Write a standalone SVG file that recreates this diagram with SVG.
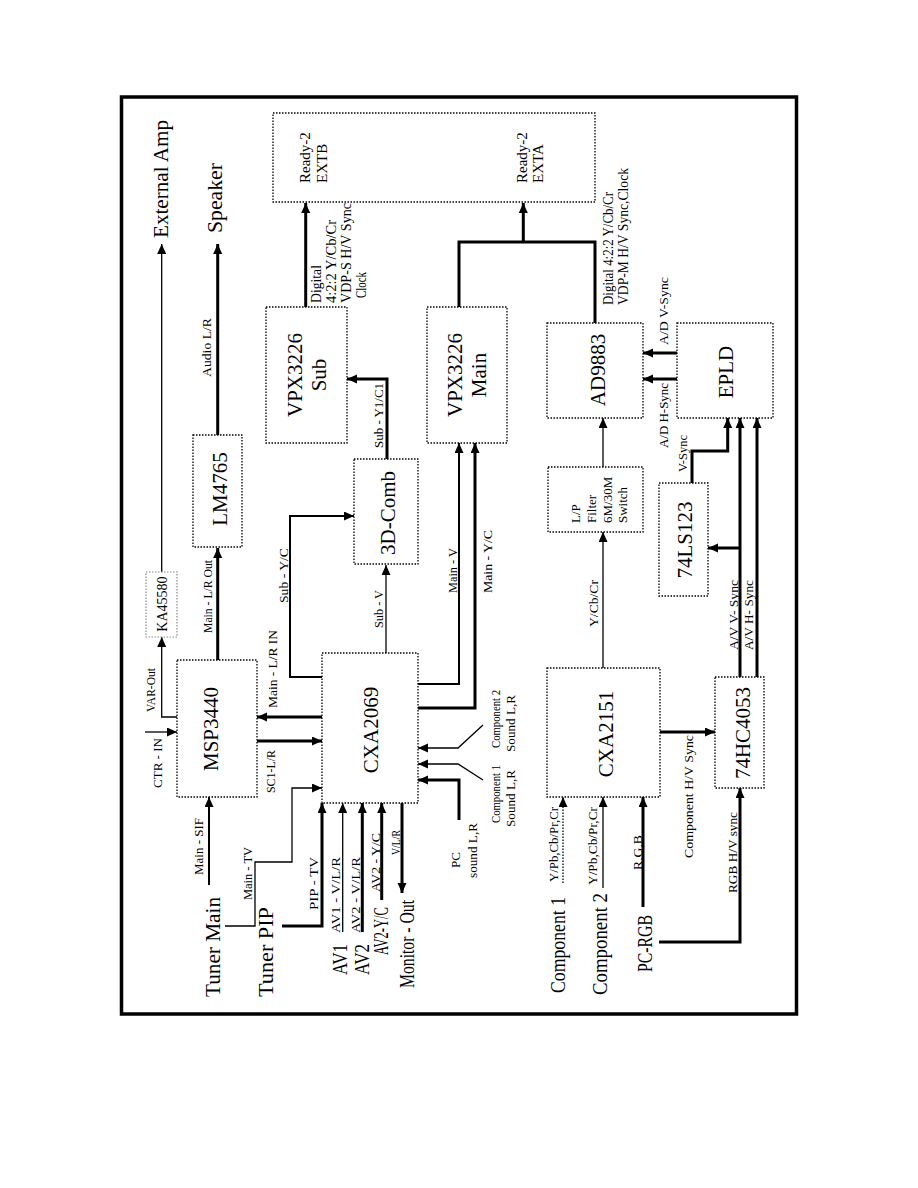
<svg xmlns="http://www.w3.org/2000/svg" width="918" height="1188" viewBox="0 0 918 1188">
<style>
text{font-family:"Liberation Serif","Times New Roman",serif;fill:#000}
.n{font-size:21px;text-anchor:middle}
.s{font-size:13px}
.m{font-size:14px}
.r{font-size:15px}
.b{font-size:20px}
.box{fill:#fff;stroke:#000;stroke-width:1.3;stroke-dasharray:1.5 1.5}
.c{fill:none;stroke:#000}
.t1{stroke-width:1.3}
.t2{stroke-width:2}
.t3{stroke-width:3}
</style>
<defs>
<marker id="a" markerUnits="userSpaceOnUse" markerWidth="11" markerHeight="10" refX="10" refY="4.5" orient="auto">
<path d="M0,0 L10,4.5 L0,9 z" fill="#000"/>
</marker>
</defs>
<rect width="918" height="1188" fill="#fff"/>
<rect x="121.5" y="97" width="675" height="917" fill="none" stroke="#000" stroke-width="3.5"/>

<g id="connectors">
<path class="c t1" d="M161.7,572 V244" marker-end="url(#a)"/>
<path class="c t3" d="M217.7,435 V244" marker-end="url(#a)"/>
<path class="c t3" d="M305.7,307 V203" marker-end="url(#a)"/>
<path class="c t3" d="M459,307 V242 H595 V323"/>
<path class="c t3" d="M523.3,242 V203" marker-end="url(#a)"/>
<path class="c t3" d="M217.7,660 V548" marker-end="url(#a)"/>
<path class="c t1" d="M177,717 H161.7 V637" marker-end="url(#a)"/>
<path class="c t1" d="M145,732 H177" marker-end="url(#a)"/>
<path class="c t2" d="M209,885 V797" marker-end="url(#a)"/>
<path class="c t1" d="M225,926 H255 V862 H292 V788 H322" marker-end="url(#a)"/>
<path class="c t3" d="M282,926 H322 V803" marker-end="url(#a)"/>
<path class="c t1" d="M342.7,932 V803" marker-end="url(#a)"/>
<path class="c t3" d="M362.3,932 V803" marker-end="url(#a)"/>
<path class="c t3" d="M381.7,900 V803" marker-end="url(#a)"/>
<path class="c t3" d="M402,803 V893" marker-end="url(#a)"/>
<path class="c t3" d="M322,717 H257" marker-end="url(#a)"/>
<path class="c t3" d="M257,741 H322" marker-end="url(#a)"/>
<path class="c t2" d="M322,677 H290 V516 H354" marker-end="url(#a)"/>
<path class="c t1" d="M386,653 V565" marker-end="url(#a)"/>
<path class="c t3" d="M387,459 V379 H347" marker-end="url(#a)"/>
<path class="c t2" d="M418,684 H459 V443" marker-end="url(#a)"/>
<path class="c t3" d="M418,708 H475 V443" marker-end="url(#a)"/>
<path class="c t1" d="M483,725 L458,748 H418" marker-end="url(#a)"/>
<path class="c t1" d="M483,780 L458,764 H418" marker-end="url(#a)"/>
<path class="c t3" d="M459,820 V780 H418" marker-end="url(#a)"/>
<path class="c t1" d="M563,883 V797" stroke-dasharray="1.5 1.5" marker-end="url(#a)"/>
<path class="c t1" d="M603,888 V797" marker-end="url(#a)"/>
<path class="c t3" d="M643,907 V797" marker-end="url(#a)"/>
<path class="c t3" d="M659,942 H740 V788" marker-end="url(#a)"/>
<path class="c t3" d="M660,732 H715" marker-end="url(#a)"/>
<path class="c t1" d="M603,668 V532" marker-end="url(#a)"/>
<path class="c t1" d="M603,467 V418" marker-end="url(#a)"/>
<path class="c t3" d="M740,677 V418" marker-end="url(#a)"/>
<path class="c t3" d="M740,548 H708" marker-end="url(#a)"/>
<path class="c t3" d="M757,677 V418" marker-end="url(#a)"/>
<path class="c t3" d="M692,483 V451 H727.7 V418" marker-end="url(#a)"/>
<path class="c t3" d="M677,353 H643" marker-end="url(#a)"/>
<path class="c t3" d="M677,379 H643" marker-end="url(#a)"/>
</g>

<g id="labels">
<text class="b" transform="rotate(-90 168 238)" x="168" y="238" textLength="118" lengthAdjust="spacingAndGlyphs">External Amp</text>
<text class="b" transform="rotate(-90 222 233)" x="222" y="233" textLength="70" lengthAdjust="spacingAndGlyphs">Speaker</text>
<text class="s" transform="rotate(-90 211 377)" x="211" y="377" textLength="59" lengthAdjust="spacingAndGlyphs">Audio L/R</text>
<text class="m" transform="rotate(-90 321 303)" x="321" y="303" textLength="38" lengthAdjust="spacingAndGlyphs">Digital</text>
<text class="m" transform="rotate(-90 336 303)" x="336" y="303" textLength="83" lengthAdjust="spacingAndGlyphs">4:2:2 Y/Cb/Cr</text>
<text class="m" transform="rotate(-90 351 303)" x="351" y="303" textLength="100" lengthAdjust="spacingAndGlyphs">VDP-S  H/V Sync</text>
<text class="m" transform="rotate(-90 366 298)" x="366" y="298" textLength="26" lengthAdjust="spacingAndGlyphs">Clock</text>
<text class="s" transform="rotate(-90 383 448)" x="383" y="448" textLength="65" lengthAdjust="spacingAndGlyphs">Sub - Y1/C1</text>
<text class="m" transform="rotate(-90 613 305)" x="613" y="305" textLength="113" lengthAdjust="spacingAndGlyphs">Digital 4:2:2 Y/Cb/Cr</text>
<text class="m" transform="rotate(-90 628 305)" x="628" y="305" textLength="137" lengthAdjust="spacingAndGlyphs">VDP-M  H/V Sync,Clock</text>
<text class="s" transform="rotate(-90 668 345)" x="668" y="345" textLength="68" lengthAdjust="spacingAndGlyphs">A/D V-Sync</text>
<text class="s" transform="rotate(-90 668 448)" x="668" y="448" textLength="65" lengthAdjust="spacingAndGlyphs">A/D H-Sync</text>
<text class="s" transform="rotate(-90 687 472)" x="687" y="472" textLength="37" lengthAdjust="spacingAndGlyphs">V-Sync</text>
<text class="s" transform="rotate(-90 598 627)" x="598" y="627" textLength="47" lengthAdjust="spacingAndGlyphs">Y/Cb/Cr</text>
<text class="s" transform="rotate(-90 738 650)" x="738" y="650" textLength="70" lengthAdjust="spacingAndGlyphs">A/V V- Sync</text>
<text class="s" transform="rotate(-90 753 650)" x="753" y="650" textLength="70" lengthAdjust="spacingAndGlyphs">A/V H- Sync</text>
<text class="s" transform="rotate(-90 693 858)" x="693" y="858" textLength="123" lengthAdjust="spacingAndGlyphs">Component  H/V Sync</text>
<text class="s" transform="rotate(-90 737 893)" x="737" y="893" textLength="81" lengthAdjust="spacingAndGlyphs">RGB H/V sync</text>
<text class="s" transform="rotate(-90 642 870)" x="642" y="870" textLength="35" lengthAdjust="spacingAndGlyphs">R,G,B</text>
<text class="s" transform="rotate(-90 558 882)" x="558" y="882" textLength="75" lengthAdjust="spacingAndGlyphs">Y/Pb,Cb/Pr,Cr</text>
<text class="s" transform="rotate(-90 597 885)" x="597" y="885" textLength="78" lengthAdjust="spacingAndGlyphs">Y/Pb,Cb/Pr,Cr</text>
<text class="b" transform="rotate(-90 565 993)" x="565" y="993" textLength="96" lengthAdjust="spacingAndGlyphs">Component 1</text>
<text class="b" transform="rotate(-90 607 995)" x="607" y="995" textLength="102" lengthAdjust="spacingAndGlyphs">Component 2</text>
<text class="b" transform="rotate(-90 652 972)" x="652" y="972" textLength="57" lengthAdjust="spacingAndGlyphs">PC-RGB</text>
<text class="b" transform="rotate(-90 220 997)" x="220" y="997" textLength="100" lengthAdjust="spacingAndGlyphs">Tuner Main</text>
<text class="b" transform="rotate(-90 273 997)" x="273" y="997" textLength="90" lengthAdjust="spacingAndGlyphs">Tuner PIP</text>
<text class="b" transform="rotate(-90 347 975)" x="347" y="975" textLength="31" lengthAdjust="spacingAndGlyphs">AV1</text>
<text class="b" transform="rotate(-90 369 975)" x="369" y="975" textLength="31" lengthAdjust="spacingAndGlyphs">AV2</text>
<text class="b" transform="rotate(-90 388 955)" x="388" y="955" textLength="48" lengthAdjust="spacingAndGlyphs">AV2-Y/C</text>
<text class="b" transform="rotate(-90 414 988)" x="414" y="988" textLength="88" lengthAdjust="spacingAndGlyphs">Monitor - Out</text>
<text class="s" transform="rotate(-90 203 875)" x="203" y="875" textLength="57" lengthAdjust="spacingAndGlyphs">Main - SIF</text>
<text class="s" transform="rotate(-90 252 900)" x="252" y="900" textLength="53" lengthAdjust="spacingAndGlyphs">Main - TV</text>
<text class="s" transform="rotate(-90 318 910)" x="318" y="910" textLength="53" lengthAdjust="spacingAndGlyphs">PIP - TV</text>
<text class="s" transform="rotate(-90 340 933)" x="340" y="933" textLength="76" lengthAdjust="spacingAndGlyphs">AV1 - V/L/R</text>
<text class="s" transform="rotate(-90 360 933)" x="360" y="933" textLength="76" lengthAdjust="spacingAndGlyphs">AV2 - V/L/R</text>
<text class="s" transform="rotate(-90 380 892)" x="380" y="892" textLength="59" lengthAdjust="spacingAndGlyphs">AV2 - Y/C</text>
<text class="s" transform="rotate(-90 400 855)" x="400" y="855" textLength="25" lengthAdjust="spacingAndGlyphs">V/L/R</text>
<text class="s" transform="rotate(-90 460 868)" x="460" y="868">PC</text>
<text class="s" transform="rotate(-90 477 878)" x="477" y="878" textLength="55" lengthAdjust="spacingAndGlyphs">sound L,R</text>
<text class="s" transform="rotate(-90 500 823)" x="500" y="823" textLength="58" lengthAdjust="spacingAndGlyphs">Component 1</text>
<text class="s" transform="rotate(-90 515 827)" x="515" y="827" textLength="57" lengthAdjust="spacingAndGlyphs">Sound L,R</text>
<text class="s" transform="rotate(-90 500 748)" x="500" y="748" textLength="58" lengthAdjust="spacingAndGlyphs">Component 2</text>
<text class="s" transform="rotate(-90 515 752)" x="515" y="752" textLength="57" lengthAdjust="spacingAndGlyphs">Sound L,R</text>
<text class="s" transform="rotate(-90 383 628)" x="383" y="628" textLength="38" lengthAdjust="spacingAndGlyphs">Sub - V</text>
<text class="s" transform="rotate(-90 457 593)" x="457" y="593" textLength="45" lengthAdjust="spacingAndGlyphs">Main - V</text>
<text class="s" transform="rotate(-90 492 593)" x="492" y="593" textLength="63" lengthAdjust="spacingAndGlyphs">Main - Y/C</text>
<text class="s" transform="rotate(-90 288 603)" x="288" y="603" textLength="55" lengthAdjust="spacingAndGlyphs">Sub - Y/C</text>
<text class="s" transform="rotate(-90 277 708)" x="277" y="708" textLength="78" lengthAdjust="spacingAndGlyphs">Main - L/R IN</text>
<text class="s" transform="rotate(-90 275 793)" x="275" y="793" textLength="43" lengthAdjust="spacingAndGlyphs">SC1-L/R</text>
<text class="s" transform="rotate(-90 212 633)" x="212" y="633" textLength="73" lengthAdjust="spacingAndGlyphs">Main - L/R Out</text>
<text class="s" transform="rotate(-90 155 712)" x="155" y="712" textLength="44" lengthAdjust="spacingAndGlyphs">VAR-Out</text>
<text class="s" transform="rotate(-90 162 788)" x="162" y="788" textLength="50" lengthAdjust="spacingAndGlyphs">CTR - IN</text>
</g>

<g id="ready2">
<rect class="box" x="273" y="113" width="322" height="89"/>
<text class="r" transform="rotate(-90 310 183)" x="310" y="183">Ready-2</text>
<text class="r" transform="rotate(-90 327 183)" x="327" y="183">EXTB</text>
<text class="r" transform="rotate(-90 527 183)" x="527" y="183">Ready-2</text>
<text class="r" transform="rotate(-90 543 183)" x="543" y="183">EXTA</text>
</g>
<g id="vpx-sub">
<rect class="box" x="266" y="307" width="81" height="136"/>
<text class="n" transform="rotate(-90 302 375)" x="302" y="375">VPX3226</text>
<text class="n" transform="rotate(-90 326 375)" x="326" y="375">Sub</text>
</g>
<g id="vpx-main">
<rect class="box" x="427" y="307" width="80" height="136"/>
<text class="n" transform="rotate(-90 462 375)" x="462" y="375">VPX3226</text>
<text class="n" transform="rotate(-90 486 375)" x="486" y="375">Main</text>
</g>
<g id="ad9883">
<rect class="box" x="547" y="323" width="96" height="95"/>
<text class="n" transform="rotate(-90 605 370)" x="605" y="370">AD9883</text>
</g>
<g id="epld">
<rect class="box" x="677" y="323" width="96" height="95"/>
<text class="n" transform="rotate(-90 733 372)" x="733" y="372">EPLD</text>
</g>
<g id="lpfilter">
<rect class="box" x="548" y="467" width="95" height="65"/>
<text class="s" transform="rotate(-90 580 523)" x="580" y="523">L/P</text>
<text class="s" transform="rotate(-90 596 523)" x="596" y="523">Filter</text>
<text class="s" transform="rotate(-90 612 523)" x="612" y="523">6M/30M</text>
<text class="s" transform="rotate(-90 627 523)" x="627" y="523">Switch</text>
</g>
<g id="ls123">
<rect class="box" x="659" y="483" width="49" height="113"/>
<text class="n" transform="rotate(-90 692 540)" x="692" y="540">74LS123</text>
</g>
<g id="hc4053">
<rect class="box" x="715" y="677" width="49" height="111"/>
<text class="n" transform="rotate(-90 750 733)" x="750" y="733">74HC4053</text>
</g>
<g id="cxa2151">
<rect class="box" x="547" y="668" width="113" height="129"/>
<text class="n" transform="rotate(-90 613 734)" x="613" y="734">CXA2151</text>
</g>
<g id="cxa2069">
<rect class="box" x="322" y="653" width="96" height="150"/>
<text class="n" transform="rotate(-90 378 730)" x="378" y="730">CXA2069</text>
</g>
<g id="comb3d">
<rect class="box" x="354" y="459" width="64" height="105"/>
<text class="n" transform="rotate(-90 395 513)" x="395" y="513">3D-Comb</text>
</g>
<g id="msp3440">
<rect class="box" x="177" y="660" width="80" height="137"/>
<text class="n" transform="rotate(-90 218 729)" x="218" y="729">MSP3440</text>
</g>
<g id="lm4765">
<rect class="box" x="193" y="435" width="49" height="112"/>
<text class="n" transform="rotate(-90 227 489)" x="227" y="489">LM4765</text>
</g>
<g id="ka45580">
<rect x="146" y="572" width="31" height="65" fill="#fff" stroke="#888" stroke-width="1.2" stroke-dasharray="1.5 1.5"/>
<text class="m" text-anchor="middle" transform="rotate(-90 167 604)" x="167" y="604">KA45580</text>
</g>
</svg>
